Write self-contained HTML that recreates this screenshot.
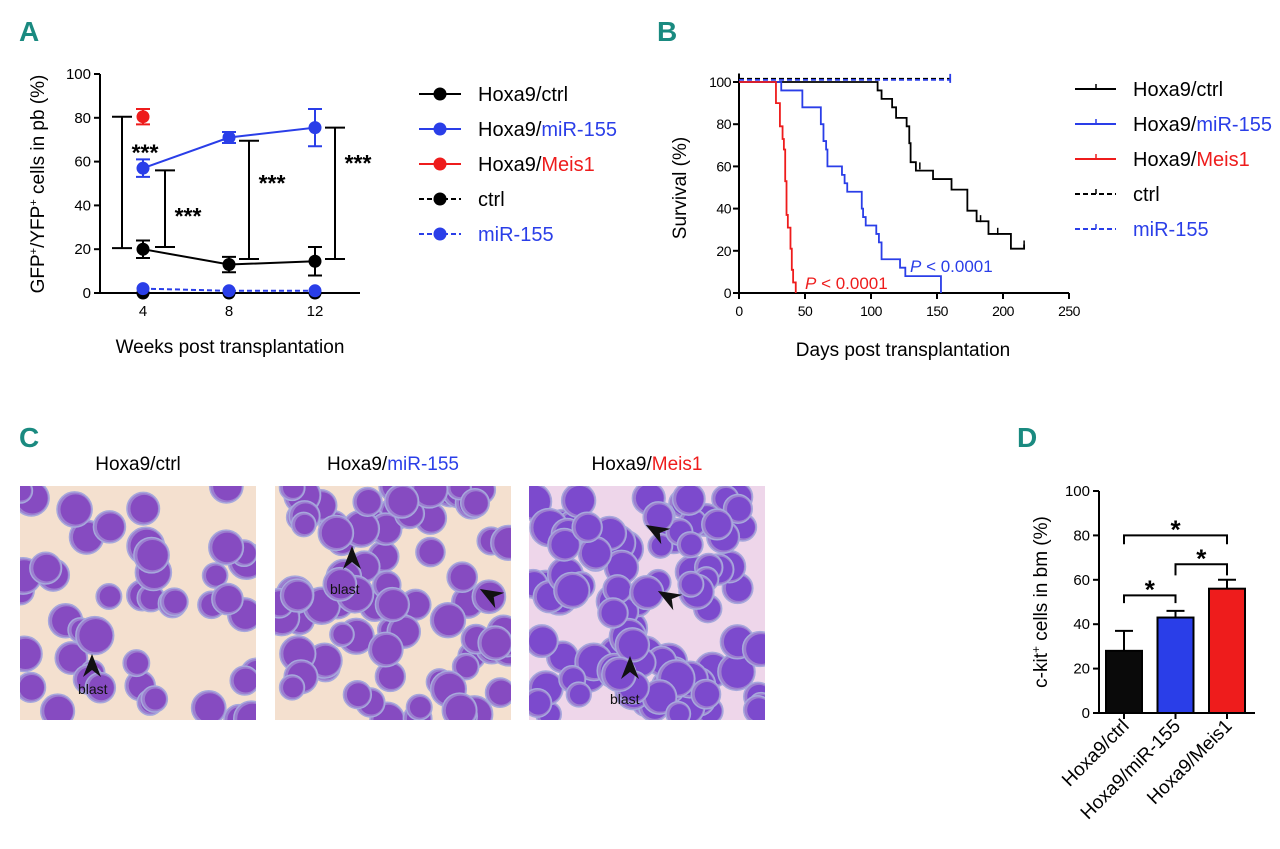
<!DOCTYPE html>
<html><head><meta charset="utf-8">
<style>
html,body{margin:0;padding:0;background:#fff;}
svg{display:block;font-family:"Liberation Sans Narrow","Liberation Sans",sans-serif;}
.lt{font-family:"Liberation Sans",sans-serif;font-weight:bold;fill:#1a8a80;font-size:28px;}
</style></head>
<body>
<svg id="fig" width="1280" height="849" viewBox="0 0 1280 849" xmlns="http://www.w3.org/2000/svg">
<text class="lt" x="19" y="41">A</text>
<text class="lt" x="657" y="41">B</text>
<text class="lt" x="19" y="447">C</text>
<text class="lt" x="1017" y="447">D</text>
<g id="A"></g>
<g id="B"></g>
<g id="C"></g>
<g id="D"></g>
</svg>
<script>
// ---- Panel A data
const weeks=[4,8,12];
const hoxCtrl=[20,13,14.5], hoxCtrlErr=[4,3.5,6.5];
const hoxMir=[57,71,75.5], hoxMirErr=[4,2.5,8.5];
const hoxMeis=[80.5], hoxMeisErr=[3.5];
const ctrlVals=[0,0,0];
const mirVals=[2,1,1];
const yTicksA=[0,20,40,60,80,100];
// [week, low, high, star level]
const sigA=[[4,20.5,80.5,67],[4,21,56,38],[8,15.5,69.5,53],[12,15.5,75.5,62]];
// ---- Panel B data (Kaplan-Meier step points: [day, survival])
const kmMeis=[[0,100],[28,100],[28,90],[31,90],[31,79],[33,79],[33,73],[34,73],[34,68],[35,68],[35,53],[36,53],[36,37],[37,37],[37,31],[39,31],[39,21],[40,21],[40,11],[41,11],[41,5],[43,5],[43,0]];
const kmMir=[[0,100],[32,100],[32,96],[48,96],[48,88],[62,88],[62,80],[64,80],[64,72],[66,72],[66,68],[67,68],[67,60],[78,60],[78,56],[80,56],[80,52],[82,52],[82,48],[93,48],[93,40],[94,40],[94,36],[96,36],[96,32],[104,32],[104,28],[106,28],[106,24],[108,24],[108,16],[122,16],[122,12],[126,12],[126,8],[153,8],[153,0]];
const kmCtrl=[[0,100],[105,100],[105,96],[108,96],[108,92],[116,92],[116,88],[119,88],[119,83],[127,83],[127,79],[129,79],[129,71],[130,71],[130,62],[134,62],[134,58],[147,58],[147,54],[161,54],[161,49],[173,49],[173,39],[180,39],[180,34],[189,34],[189,28],[206,28],[206,21],[216,21],[216,23]];
const kmCtrlCens=[[137,60],[183,35],[196,29],[216,23]];
const xTicksB=[0,50,100,150,200,250];
const yTicksB=[0,20,40,60,80,100];
// ---- Panel D data
const groupsD=["Hoxa9/ctrl","Hoxa9/miR-155","Hoxa9/Meis1"];
const valsD=[28,43,56];
const errD=[9,3,4];
const yTicksD=[0,20,40,60,80,100];

const NS="http://www.w3.org/2000/svg";
function mk(p,tag,at,txt){const e=document.createElementNS(NS,tag);for(const k in at)e.setAttribute(k,at[k]);if(txt!==undefined)e.textContent=txt;p.appendChild(e);return e;}
const BLUE="#2a3ee8",RED="#ee1c1c";

// ===== Panel A
(function(){
const g=document.getElementById('A');
const xA=w=>143+(w-4)*21.5, yA=v=>293-v*2.19;
let e=mk(g,'line',{x1:100,y1:yA(100),x2:100,y2:yA(0),stroke:'#000','stroke-width':2});

e=mk(g,'line',{x1:100,y1:yA(0),x2:360,y2:yA(0),stroke:'#000','stroke-width':2});

yTicksA.forEach(t=>{mk(g,'line',{x1:94,x2:100,y1:yA(t),y2:yA(t),stroke:'#000','stroke-width':2});
 e=mk(g,'text',{x:91,y:yA(t)+5,'text-anchor':'end','font-size':15},t);
 });
weeks.forEach(w=>{mk(g,'line',{x1:xA(w),x2:xA(w),y1:yA(0),y2:yA(0)+6,stroke:'#000','stroke-width':2});
 e=mk(g,'text',{x:xA(w),y:316,'text-anchor':'middle','font-size':15},w);
 });
e=mk(g,'text',{x:230,y:353,'text-anchor':'middle','font-size':19},'Weeks post transplantation');

e=mk(g,'text',{transform:'translate(44,184) rotate(-90)','text-anchor':'middle','font-size':19});
e.innerHTML='GFP<tspan dy="-7" font-size="11">+</tspan><tspan dy="7">/YFP</tspan><tspan dy="-7" font-size="11">+</tspan><tspan dy="7"> cells in pb (%)</tspan>';

function series(vals,err,col,dash,name){
 const pts=vals.map((v,i)=>xA(weeks[i])+','+yA(v)).join(' ');
 if(vals.length>1){const l=mk(g,'polyline',{points:pts,fill:'none',stroke:col,'stroke-width':2,'stroke-dasharray':dash||'none'});
 }
 vals.forEach((v,i)=>{const x=xA(weeks[i]);
  if(err){const a=yA(v+err[i]),b=yA(v-err[i]);
   mk(g,'path',{d:`M${x},${a}V${b}M${x-7},${a}H${x+7}M${x-7},${b}H${x+7}`,stroke:col,'stroke-width':2,fill:'none'});}
  const c=mk(g,'circle',{cx:x,cy:yA(v),r:6.5,fill:col});
  });
}
series(ctrlVals,null,'#000','5,3','ctrl');
series(mirVals,null,BLUE,'5,3','mir155');
series(hoxCtrl,hoxCtrlErr,'#000',null,'hoxa9-ctrl');
series(hoxMir,hoxMirErr,BLUE,null,'hoxa9-mir155');
series(hoxMeis,hoxMeisErr,RED,null,'hoxa9-meis1');
const bx=[-21,22,20,20];
sigA.forEach((s,i)=>{const x=xA(s[0])+bx[i];
 const a=yA(s[2]),b=yA(s[1]);
 mk(g,'path',{d:`M${x},${a}V${b}M${x-10},${a}H${x+10}M${x-10},${b}H${x+10}`,stroke:'#000','stroke-width':2,fill:'none'});
 const t=mk(g,'text',{x:x+23,y:yA(s[3])+14,'text-anchor':'middle','font-size':23,'font-weight':'bold','font-family':'Liberation Sans'},'***');
 });
const leg=[['Hoxa9/','ctrl','#000',null],['Hoxa9/','miR-155',BLUE,null],['Hoxa9/','Meis1',RED,null],['','ctrl','#000','5,3'],['','miR-155',BLUE,'5,3']];
leg.forEach((L,i)=>{const y=94+i*35;
 const gg=mk(g,'g',{});
 mk(gg,'line',{x1:419,x2:461,y1:y,y2:y,stroke:L[2],'stroke-width':2,'stroke-dasharray':L[3]||'none'});
 mk(gg,'circle',{cx:440,cy:y,r:6.5,fill:L[2]});
 const t=mk(gg,'text',{x:478,y:y+7,'font-size':20});
 t.innerHTML=(L[0]?'<tspan fill="#000">'+L[0]+'</tspan>':'')+'<tspan fill="'+L[2]+'">'+L[1]+'</tspan>';});
})();

// ===== Panel B
(function(){
const g=document.getElementById('B');
const xB=d=>739+d*1.32, yB=v=>293-v*2.11;
let e=mk(g,'line',{x1:xB(0),y1:yB(104),x2:xB(0),y2:yB(0),stroke:'#000','stroke-width':2});

e=mk(g,'line',{x1:xB(0),y1:yB(0),x2:xB(250),y2:yB(0),stroke:'#000','stroke-width':2});

yTicksB.forEach(t=>{mk(g,'line',{x1:xB(0)-6,x2:xB(0),y1:yB(t),y2:yB(t),stroke:'#000','stroke-width':2});
 e=mk(g,'text',{x:xB(0)-8,y:yB(t)+5,'text-anchor':'end','font-size':14,'letter-spacing':'-0.5'},t);
 });
xTicksB.forEach(t=>{mk(g,'line',{x1:xB(t),x2:xB(t),y1:yB(0),y2:yB(0)+6,stroke:'#000','stroke-width':2});
 e=mk(g,'text',{x:xB(t),y:316,'text-anchor':'middle','font-size':14,'letter-spacing':'-0.5'},t);
 });
e=mk(g,'text',{x:903,y:356,'text-anchor':'middle','font-size':19},'Days post transplantation');

e=mk(g,'text',{transform:'translate(686,188) rotate(-90)','text-anchor':'middle','font-size':19},'Survival (%)');

function km(pts,col,name,dash){const l=mk(g,'polyline',{points:pts.map(p=>xB(p[0])+','+yB(p[1])).join(' '),fill:'none',stroke:col,'stroke-width':1.8,'stroke-dasharray':dash||'none'});
 }
km([[0,101.5],[160,101.5]],'#000','ctrl-survival-line','5,3');
km([[0,101],[160,101]],BLUE,'mir155-survival-line','5,3');
mk(g,'line',{x1:xB(160),x2:xB(160),y1:yB(101)-6,y2:yB(101)+3,stroke:BLUE,'stroke-width':1.8});
km(kmCtrl,'#000','hoxa9-ctrl-survival-line');
km(kmMir,BLUE,'hoxa9-mir155-survival-line');
km(kmMeis,RED,'hoxa9-meis1-survival-line');
kmCtrlCens.forEach(c=>mk(g,'line',{x1:xB(c[0]),x2:xB(c[0]),y1:yB(c[1])-4,y2:yB(c[1])+3,stroke:'#000','stroke-width':1.5}));
e=mk(g,'text',{x:805,y:289,'font-size':17,fill:RED});e.innerHTML='<tspan font-style="italic">P</tspan> &lt; 0.0001';

e=mk(g,'text',{x:910,y:272,'font-size':17,fill:BLUE});e.innerHTML='<tspan font-style="italic">P</tspan> &lt; 0.0001';

const leg=[['Hoxa9/','ctrl','#000',null],['Hoxa9/','miR-155',BLUE,null],['Hoxa9/','Meis1',RED,null],['','ctrl','#000','5,3'],['','miR-155',BLUE,'5,3']];
leg.forEach((L,i)=>{const y=89+i*35;
 const gg=mk(g,'g',{});
 mk(gg,'line',{x1:1075,x2:1116,y1:y,y2:y,stroke:L[2],'stroke-width':2,'stroke-dasharray':L[3]||'none'});
 mk(gg,'line',{x1:1096,x2:1096,y1:y-5,y2:y,stroke:L[2],'stroke-width':1.5});
 const t=mk(gg,'text',{x:1133,y:y+7,'font-size':20});
 t.innerHTML=(L[0]?'<tspan fill="#000">'+L[0]+'</tspan>':'')+'<tspan fill="'+L[2]+'">'+L[1]+'</tspan>';});
})();

// ===== Panel C (micrographs, decorative)
(function(){
const g=document.getElementById('C');
const imgs=[[20,'Hoxa9/','ctrl','#000',45],[275,'Hoxa9/','miR-155',BLUE,80],[529,'Hoxa9/','Meis1',RED,100]];
let seed=11;const rnd=()=>{seed=(seed*16807)%2147483647;return seed/2147483647;};
imgs.forEach((I,k)=>{const x0=I[0],y0=486,w=236,h=234;
 const t=mk(g,'text',{x:x0+118,y:470,'text-anchor':'middle','font-size':19});
 t.innerHTML='<tspan fill="#000">'+I[1]+'</tspan><tspan fill="'+I[3]+'">'+I[2]+'</tspan>';
 
 const gg=mk(g,'g',{});
 const cid='clip'+k;const cp=mk(gg,'clipPath',{id:cid});mk(cp,'rect',{x:x0,y:y0,width:w,height:h});
 const inner=mk(gg,'g',{'clip-path':'url(#'+cid+')'});
 mk(inner,'rect',{x:x0,y:y0,width:w,height:h,fill:k===2?'#eed6ea':'#f4e0cf'});
 for(let i=0;i<I[4];i++){const cx=x0+rnd()*w,cy=y0+rnd()*h,r=12+rnd()*7;
  mk(inner,'circle',{cx:cx,cy:cy,r:r,fill:'#9c7fd0',stroke:'#a7a8dc','stroke-width':1.5});
  mk(inner,'circle',{cx:cx+1,cy:cy,r:r-2.5,fill:k===2?'#7a45cc':'#8446bf','fill-opacity':0.92});}
});
const arrows=[[92,668,'blast',78,690],[352,560,'blast',330,590],[492,596,'',0,0],[658,532,'',0,0],[670,598,'',0,0],[630,670,'blast',610,700]];
arrows.forEach(a=>{mk(g,'path',{d:`M${a[0]},${a[1]-14} L${a[0]+9},${a[1]+9} L${a[0]},${a[1]+2} L${a[0]-9},${a[1]+9}Z`,fill:'#111',transform:a[2]?'':`rotate(-60 ${a[0]} ${a[1]})`});
 if(a[2]){const t=mk(g,'text',{x:a[3],y:a[4]+4,'font-size':14,fill:'#111'},a[2]);}});
})();

// ===== Panel D
(function(){
const g=document.getElementById('D');
const yD=v=>713-v*2.22, xD=i=>1124+i*51.5;
let e=mk(g,'line',{x1:1099,y1:yD(100),x2:1099,y2:yD(0),stroke:'#000','stroke-width':2});

e=mk(g,'line',{x1:1099,y1:yD(0),x2:1255,y2:yD(0),stroke:'#000','stroke-width':2});

yTicksD.forEach(t=>{mk(g,'line',{x1:1093,x2:1099,y1:yD(t),y2:yD(t),stroke:'#000','stroke-width':2});
 e=mk(g,'text',{x:1090,y:yD(t)+5,'text-anchor':'end','font-size':15},t);
 });
e=mk(g,'text',{transform:'translate(1047,602) rotate(-90)','text-anchor':'middle','font-size':19});
e.innerHTML='c-kit<tspan dy="-7" font-size="12">+</tspan><tspan dy="7">  cells in bm (%)</tspan>';

const cols=['#0a0a0a',BLUE,RED];
valsD.forEach((v,i)=>{const x=xD(i);
 const a=yD(v+errD[i]);
 mk(g,'path',{d:`M${x},${yD(v)}V${a}M${x-9},${a}H${x+9}`,stroke:'#000','stroke-width':2,fill:'none'});
 const r=mk(g,'rect',{x:x-18,y:yD(v),width:36,height:yD(0)-yD(v),fill:cols[i],stroke:'#000','stroke-width':2});
 
 mk(g,'line',{x1:x,x2:x,y1:yD(0),y2:yD(0)+6,stroke:'#000','stroke-width':2});
 const t=mk(g,'text',{transform:`translate(${x+6},${yD(0)+14}) rotate(-45)`,'text-anchor':'end','font-size':19},groupsD[i]);
 });
const br=[[0,2,80,76],[1,2,67,62],[0,1,53,49.5]];
br.forEach(b=>{const x1=xD(b[0]),x2=xD(b[1]),y=yD(b[2]);
 mk(g,'path',{d:`M${x1},${yD(b[3])}V${y}H${x2}V${yD(b[3])}`,stroke:'#000','stroke-width':2,fill:'none'});
 const t=mk(g,'text',{x:(x1+x2)/2,y:y+3,'text-anchor':'middle','font-size':26,'font-weight':'bold','font-family':'Liberation Sans'},'*');
 });
})();
</script>
</body></html>
